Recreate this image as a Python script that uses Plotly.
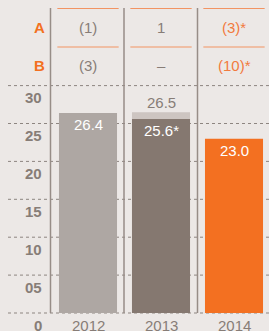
import plotly.graph_objects as go

years = ["2012", "2013", "2014"]
values = [26.4, 25.6, 23.0]
value_labels = ["26.4", "25.6*", "23.0"]
restated_2013 = 26.5
restated_label = "26.5"
row_names = ["A", "B"]
row_a = ["(1)", "1", "(3)*"]
row_b = ["(3)", "–", "(10)*"]
ytick_vals = [0, 5, 10, 15, 20, 25, 30]
ytick_text = ["0", "05", "10", "15", "20", "25", "30"]

BG = "#ece8e6"
GRAY_TXT = "#877d77"
ORANGE = "#f37021"
ORANGE_TXT = "#f27b3e"
ORANGE_LT = "#f29463"
bar_colors = ["#aea7a3", "#857870", ORANGE]

W, H = 269, 331
px_per_x = 73.0
x0_px = 88.0
px_per_y = 7.58
y0_px = 313.0
xr = [-x0_px / px_per_x, (W - x0_px) / px_per_x]
yr = [-(H - y0_px) / px_per_y, y0_px / px_per_y]

def ypix(p):
    return (y0_px - p) / px_per_y

def xpix(p):
    return (p - x0_px) / px_per_x

xs = list(range(len(years)))
fig = go.Figure()

fig.add_trace(go.Bar(x=[1], y=[restated_2013], width=0.795, marker=dict(color="#cdc5c1", line=dict(width=0)),
                     hoverinfo="skip", showlegend=False))
fig.add_trace(go.Bar(x=xs, y=values, width=0.795, marker=dict(color=bar_colors, line=dict(width=0)),
                     showlegend=False))

shapes = []
for v in ytick_vals:
    shapes.append(dict(type="line", xref="x", yref="y", x0=xpix(8), x1=xpix(269), y0=v, y1=v,
                       line=dict(color="#8d8580", width=1, dash="dot"), layer="below"))
for xp in [50.5, 124, 197.5]:
    shapes.append(dict(type="line", xref="x", yref="y", x0=xpix(xp), x1=xpix(xp), y0=ypix(8), y1=0,
                       line=dict(color="#978d87", width=1.5), layer="below"))
for i in xs:
    for yp in [8.5, 47]:
        shapes.append(dict(type="line", xref="x", yref="y", x0=i - 0.42, x1=i + 0.42, y0=ypix(yp), y1=ypix(yp),
                           line=dict(color=ORANGE_LT, width=1.2)))

ann = []
FONT = "Liberation Sans, Arial, sans-serif"
FS = 15
for v, t in zip(ytick_vals, ytick_text):
    ann.append(dict(x=xpix(44), y=v, xref="x", yref="y", text="<b>%s</b>" % t, showarrow=False,
                    xanchor="right", yanchor="middle", yshift=-12,
                    font=dict(family=FONT, size=FS, color=GRAY_TXT)))
for i, yr_ in enumerate(years):
    ann.append(dict(x=i, y=0, xref="x", yref="y", text=yr_, showarrow=False, yanchor="middle", yshift=-12,
                    font=dict(family=FONT, size=FS, color=GRAY_TXT)))
for i, (v, t) in enumerate(zip(values, value_labels)):
    ann.append(dict(x=i, y=v, xref="x", yref="y", text=t, showarrow=False, yanchor="middle", yshift=-12,
                    font=dict(family=FONT, size=FS, color="white")))
ann.append(dict(x=1, y=restated_2013, xref="x", yref="y", text=restated_label, showarrow=False,
                yanchor="middle", yshift=10, font=dict(family=FONT, size=FS, color=GRAY_TXT)))
for r, (name, row) in enumerate(zip(row_names, [row_a, row_b])):
    yp = 27.5 if r == 0 else 65.5
    ann.append(dict(x=xpix(39), y=ypix(yp), xref="x", yref="y", text="<b>%s</b>" % name, showarrow=False,
                    yanchor="middle", font=dict(family=FONT, size=FS, color=ORANGE)))
    for i, t in enumerate(row):
        col = ORANGE_TXT if i == 2 else GRAY_TXT
        ann.append(dict(x=i, y=ypix(yp), xref="x", yref="y", text=t, showarrow=False, yanchor="middle",
                        font=dict(family=FONT, size=FS, color=col)))

fig.update_layout(
    width=W, height=H, margin=dict(l=0, r=0, t=0, b=0),
    paper_bgcolor=BG, plot_bgcolor=BG, barmode="overlay",
    xaxis=dict(range=xr, visible=False, fixedrange=True),
    yaxis=dict(range=yr, visible=False, fixedrange=True),
    shapes=shapes, annotations=ann, showlegend=False,
)
fig.write_html("out.html", config=dict(displayModeBar=False),
               post_script="document.body.style.margin='0';document.body.style.overflow='hidden';document.body.style.background='%s';" % BG)
